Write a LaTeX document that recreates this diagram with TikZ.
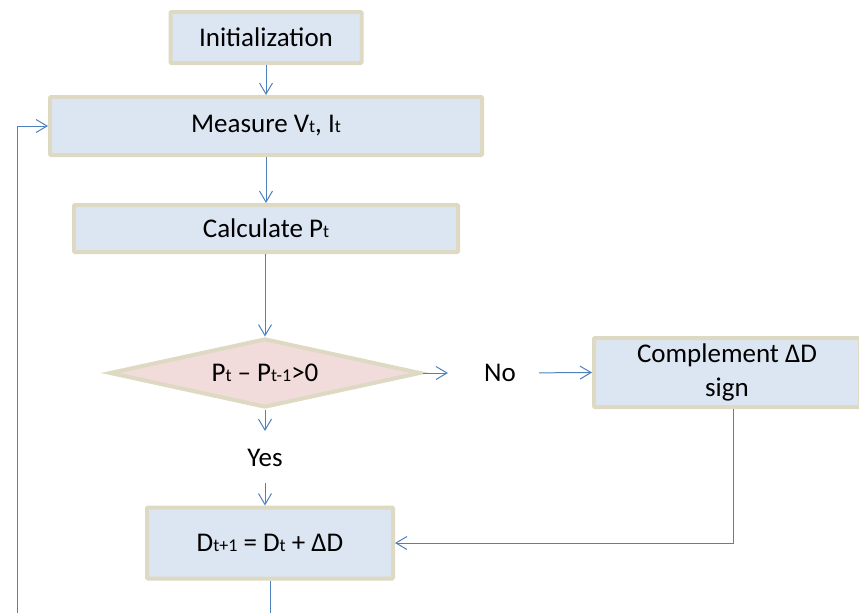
\documentclass[tikz,border=0pt]{standalone}
\usepackage{fontspec}
\setmainfont{Carlito}
\usetikzlibrary{arrows.meta}
\usetikzlibrary{shapes.geometric}
\definecolor{boxfill}{HTML}{DCE6F2}
\definecolor{boxline}{HTML}{DDD9C3}
\definecolor{decfill}{HTML}{F2DCDB}
\definecolor{flowblue}{HTML}{4F81BD}
\newcommand{\sbs}[1]{{\fontsize{18}{18}\selectfont #1}}
\tikzset{box/.style={draw=boxline, fill=boxfill, line width=4pt, rounded corners=1pt, inner sep=2pt}}
\tikzset{decbox/.style={diamond, shape aspect=4.3, draw=boxline, fill=decfill, line width=4pt, inner sep=0pt}}
\tikzset{flow/.style={draw=flowblue, line width=1pt, -{Straight Barb[length=11pt,width=13pt,line width=1pt]}}}
\tikzset{flowline/.style={draw=flowblue, line width=1pt}}

\begin{document}
\begin{tikzpicture}[x=1pt, y=-1pt, every node/.style={font=\fontsize{27}{34}\selectfont}]
	\useasboundingbox (0,0) rectangle (859,613);
	\node[box, minimum width=191pt, minimum height=51pt] (init) at (266,37.5) {Initialization};
	\node[box, minimum width=432pt, minimum height=58pt] (measure) at (266,126) {Measure V\sbs{t}, I\sbs{t}};
	\node[box, minimum width=384pt, minimum height=47pt] (calc) at (266,228.5) {Calculate P\sbs{t}};
	\node[decbox, minimum width=311pt, minimum height=69pt] (dec) at (265,373) {P\sbs{t} – P\sbs{t-1}>0};
	\node[inner sep=0pt] (no) at (500,373) {No};
	\node[box, minimum width=266pt, minimum height=69pt, align=center] (comp) at (727,372.5) {Complement ΔD\\sign};
	\node[inner sep=0pt] (yes) at (265,458) {Yes};
	\node[box, minimum width=246pt, minimum height=71pt] (upd) at (270,543) {D\sbs{t+1} = D\sbs{t} + ΔD};
	\coordinate (updend) at (270,613);
	\coordinate (loopstart) at (17,613);

	\draw[flow] (init) -- (measure);
	\draw[flow] (measure) -- (calc);
	\draw[flow] (calc.south -| dec.north) -- (dec.north);
	\draw[flow, shorten >=36pt] (dec.east) -- (no.west);
	\draw[flow, shorten <=23pt] (no.east) -- (comp.west);
	\draw[flow, shorten >=18pt] (dec.south) -- (yes.north);
	\draw[flow, shorten <=16pt] (yes.south) -- (yes.south |- upd.north);
	\draw[flow] (comp.south) ++(6,0) |- (upd.east);
	\draw[flowline] (upd.south) -- (updend);
	\draw[flow] (loopstart) |- (measure.west);
\end{tikzpicture}
\end{document}
